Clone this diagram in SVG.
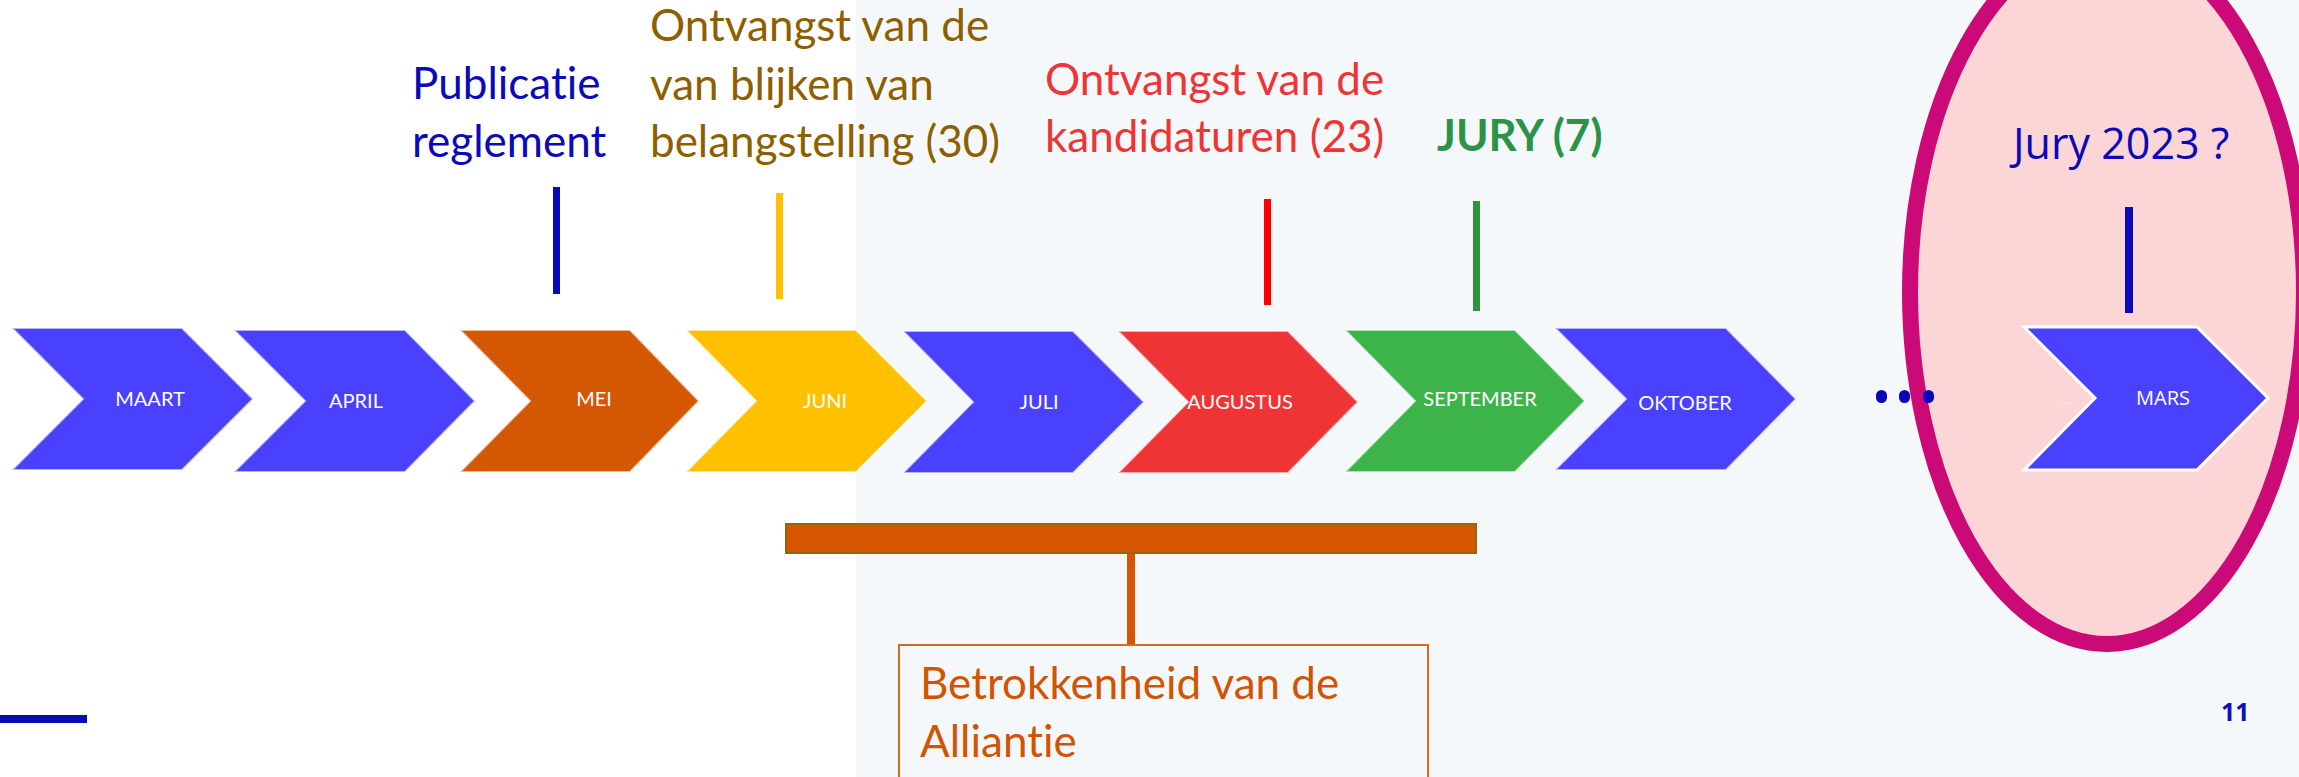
<svg xmlns="http://www.w3.org/2000/svg" width="2299" height="777" viewBox="0 0 2299 777">
<style>
text{font-variant-ligatures:none;font-feature-settings:"liga" 0}
.lbl{font-family:Lato,"Liberation Sans",sans-serif;font-size:44px}
.mon{font-family:Lato,"Liberation Sans",sans-serif;font-size:20px;fill:#ffffff;text-anchor:middle}
.chev{stroke:#ffffff;stroke-width:2;stroke-opacity:0.6}
.blue{fill:#4A41FF}
</style>
<rect x="0" y="0" width="2299" height="777" fill="#ffffff"/>
<rect x="856" y="0" width="1443" height="777" fill="#F5F8FA"/>
<ellipse cx="2107" cy="292" rx="197" ry="352" fill="#FCD5D6" stroke="#CB0A77" stroke-width="16"/>

<g id="connectors">
<rect x="553" y="187" width="7" height="107" fill="#0A0AB8"/>
<rect x="776" y="193" width="7" height="106" fill="#FFC000"/>
<rect x="1264" y="199" width="7" height="106" fill="#FF0000"/>
<rect x="1473" y="201" width="7" height="110" fill="#2E9444"/>
<rect x="2125" y="207" width="8" height="106" fill="#0A0AB8"/>
<rect x="1127" y="553" width="8" height="92" fill="#D55500"/>
</g>

<g id="maart"><polygon class="chev blue" points="12,328 182,328 253,399 182,470 12,470 83,399"/><text class="mon" x="150" y="406">MAART</text></g>
<g id="april"><polygon class="chev blue" points="234,330 405,330 475,401 405,472 234,472 305,401"/><text class="mon" x="356" y="408">APRIL</text></g>
<g id="mei"><polygon class="chev" fill="#D45703" points="460,330 630,330 699,401 630,472 460,472 530,401"/><text class="mon" x="594" y="406">MEI</text></g>
<g id="juni"><polygon class="chev" fill="#FFC000" points="686,330 856,330 927,401 856,472 686,472 756,401"/><text class="mon" x="825" y="408">JUNI</text></g>
<g id="juli"><polygon class="chev blue" points="903,331 1073,331 1144,402 1073,473 903,473 973,402"/><text class="mon" x="1039" y="409">JULI</text></g>
<g id="augustus"><polygon class="chev" fill="#EF3436" points="1118,331 1288,331 1358,402 1288,473 1118,473 1188,402"/><text class="mon" x="1240" y="409">AUGUSTUS</text></g>
<g id="september"><polygon class="chev" fill="#3DB44A" points="1345,330 1515,330 1585,401 1515,472 1345,472 1415,401"/><text class="mon" x="1480" y="406">SEPTEMBER</text></g>
<g id="oktober"><polygon class="chev blue" points="1555,328 1726,328 1796,399 1726,470 1555,470 1626,399"/><text class="mon" x="1685" y="410">OKTOBER</text></g>
<g id="mars"><polygon class="blue" stroke="#ffffff" stroke-width="3" points="2024,327 2197,327 2268,398 2197,470 2024,470 2095,398"/><text x="2066" y="404" font-family="'Open Sans',sans-serif" font-size="14" fill="#ffffff" fill-opacity="0.7" text-anchor="middle">...</text><text x="2163" y="405" font-family="'Open Sans',sans-serif" font-size="20" fill="#ffffff" text-anchor="middle">MARS</text></g>

<g id="dots" fill="#0808B8">
<rect x="1876" y="390" width="11" height="13" rx="5.5"/>
<rect x="1899" y="390" width="11" height="13" rx="5.5"/>
<rect x="1923" y="390" width="11" height="13" rx="5.5"/>
</g>

<g id="publicatie"><text class="lbl" fill="#0A0AB8"><tspan x="412" y="99">Publicatie</tspan><tspan x="412" y="157">reglement</tspan></text></g>
<g id="belangstelling"><text class="lbl" fill="#8E5F00"><tspan x="650" y="41">Ontvangst van de</tspan><tspan x="650" y="100">van blijken van</tspan><tspan x="650" y="157">belangstelling (30)</tspan></text></g>
<g id="kandidaturen"><text class="lbl" fill="#EE3535"><tspan x="1045" y="95">Ontvangst van de</tspan><tspan x="1045" y="152">kandidaturen (23)</tspan></text></g>
<g id="jury"><text x="1437" y="151" font-family="Lato,'Liberation Sans',sans-serif" font-size="44" font-weight="bold" fill="#2B9348">JURY (7)</text></g>
<g id="jury2023"><text x="2013" y="159" font-family="'Open Sans',sans-serif" font-size="43" fill="#0A0AB8">Jury 2023 ?</text></g>

<g id="bar"><rect x="786" y="524" width="690" height="29" fill="#D55500" stroke="#8F6A00" stroke-width="2"/></g>
<g id="alliantie"><rect x="899" y="645" width="529" height="140" fill="none" stroke="#D86A1C" stroke-width="2"/><text class="lbl" fill="#D35400"><tspan x="920" y="699">Betrokkenheid van de</tspan><tspan x="920" y="757">Alliantie</tspan></text></g>

<rect x="0" y="715" width="87" height="8" fill="#0A0AB8"/>
<text x="2221" y="721" font-family="'Open Sans',sans-serif" font-size="25" font-weight="bold" fill="#1010B8">11</text>
</svg>
